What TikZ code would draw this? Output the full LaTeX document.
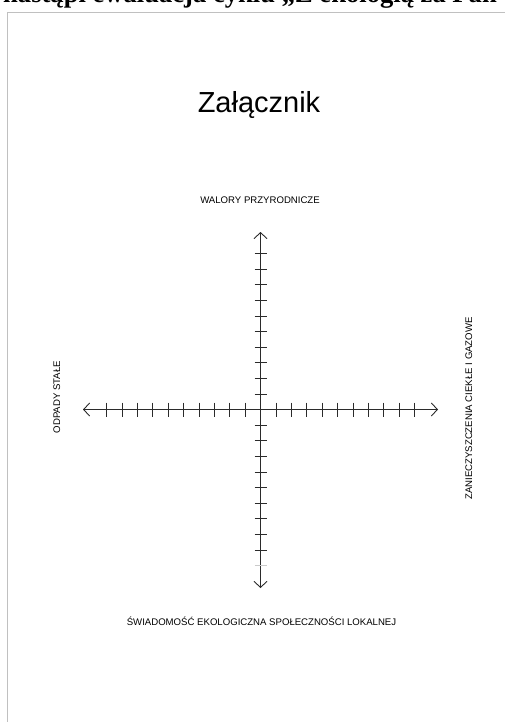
\documentclass[tikz,border=0pt]{standalone}
\usepackage{fontspec}
\setmainfont{Liberation Sans}
\newfontfamily\headserif{Liberation Serif}
\definecolor{axisGray}{HTML}{2B2B2B}
\definecolor{frameGray}{HTML}{C0C0C0}
\usetikzlibrary{arrows.meta}

\begin{document}
\begin{tikzpicture}[x=1pt, y=-1pt,
  axis/.style={axisGray, line width=0.9pt,
    {Straight Barb[length=6pt,width=13pt]}-{Straight Barb[length=6pt,width=13pt]}},
  tick/.style={axisGray, line width=0.8pt},
  axislabel/.style={inner sep=0pt, font=\fontsize{9.6}{11}\selectfont}]

  \useasboundingbox (0,0) rectangle (505,722);
  \clip (0,0) rectangle (505,722);

  % page frame and cut-off heading
  \draw[frameGray, line width=1pt] (7.5,740) |- (520,12.5);
  \node[anchor=base west, inner sep=0pt, font=\headserif\bfseries\fontsize{26.6}{30}\selectfont]
    (header) at (3,3) {nastąpi ewaluacja cyklu „Z ekologią za Pan};

  \node[anchor=base, inner sep=0pt, font=\fontsize{29}{32}\selectfont] (title) at (259,113) {Załącznik};

  % axes
  \coordinate (o) at (260.5,409.5);
  \coordinate (west) at (83,409.5);
  \coordinate (east) at (438,409.5);
  \coordinate (north) at (260.5,232);
  \coordinate (south) at (260.5,588);
  \draw[axis] (west) -- (east);
  \draw[axis] (north) -- (south);

  \foreach \k in {1,...,10} {
    \draw[tick] (260.5+\k*15.4,402.5) -- ++(0,14);
    \draw[tick] (260.5-\k*15.4,402.5) -- ++(0,14);
    \draw[tick] (254.5,409.5-\k*15.6) -- ++(12,0);
  }
  \foreach \k in {1,...,9}
    \draw[tick] (254.5,409.5+\k*15.6) -- ++(12,0);
  \draw[tick, axisGray!25] (254.5,409.5+10*15.6) -- ++(12,0);

  % labels
  \node[axislabel, anchor=base] (top) at (260,204) {WALORY PRZYRODNICZE};
  \node[axislabel, anchor=base] (bottom) at (261.5,625) {ŚWIADOMOŚĆ EKOLOGICZNA SPOŁECZNOŚCI LOKALNEJ};
  \node[axislabel, anchor=base, rotate=90] (left) at (60,397) {ODPADY STAŁE};
  \node[axislabel, anchor=base, rotate=90] (right) at (472,408.5) {ZANIECZYSZCZENIA CIEKŁE I GAZOWE};
\end{tikzpicture}
\end{document}
